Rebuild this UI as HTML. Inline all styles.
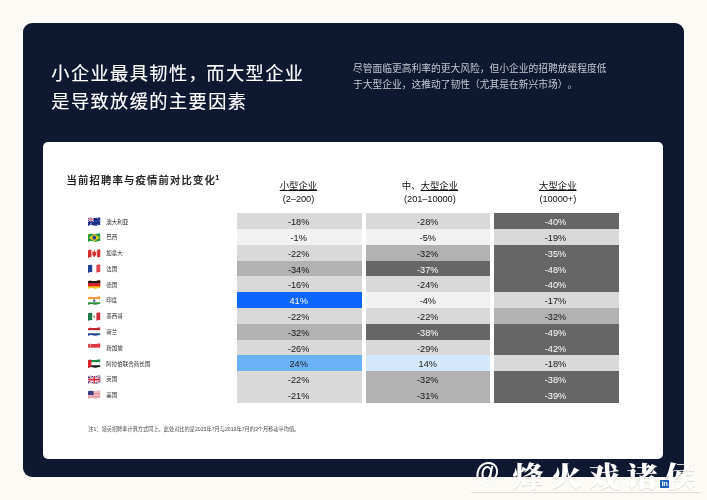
<!DOCTYPE html>
<html lang="zh-CN"><head><meta charset="utf-8"><title>小企业最具韧性</title>
<style>
html,body{margin:0;padding:0}
body{width:707px;height:500px;overflow:hidden;background:#fcfaf5;position:relative;font-family:"Liberation Sans","Noto Sans CJK SC",sans-serif}
.panel{position:absolute;left:23px;top:23px;width:661px;height:453.5px;background:#0f1831;border-radius:9px}
.card{position:absolute;left:43px;top:142px;width:620px;height:316.5px;background:#fff;border-radius:5px}
.title{position:absolute;left:51.3px;top:60.1px;margin:0;font-size:18.2px;line-height:28px;font-weight:400;color:#fff;white-space:nowrap;letter-spacing:1.42px;-webkit-text-stroke:.15px #fff}
.title i{font-style:normal;letter-spacing:-.4px}
.desc{text-spacing-trim:space-all;position:absolute;left:353px;top:61.3px;margin:0;font-size:9.75px;line-height:15.8px;color:#c6c9d3;white-space:nowrap;font-weight:400}
.sub{position:absolute;left:66.5px;top:172.7px;margin:0;font-size:10.3px;line-height:16px;color:#1c1c1c;font-weight:500;-webkit-text-stroke:.22px #1c1c1c;white-space:nowrap;letter-spacing:1.2px}
.sub sup{font-size:6.5px;line-height:0;vertical-align:3.6px;letter-spacing:0;font-weight:700;margin-left:-.5px}
.hd{position:absolute;text-align:center;font-size:9.4px;line-height:12.6px;color:#111;top:179.6px;white-space:nowrap}
.hd u{text-decoration-thickness:.7px;text-underline-offset:1px}
.hd span{display:block;font-size:9.3px;letter-spacing:-.1px;position:relative;top:.8px}
.c{position:absolute;height:15.8px;line-height:18.6px;text-align:center;font-size:9.2px;box-sizing:border-box;padding-right:2px;overflow:hidden}
.f{position:absolute;left:88px;width:12.6px;height:9.3px;display:block}
.n{position:absolute;left:106.3px;font-size:5.5px;line-height:8px;color:#262626;white-space:nowrap;font-weight:400}
.note{position:absolute;left:88.3px;top:424.6px;font-size:5.2px;line-height:8px;color:#444;white-space:nowrap;margin:0}
.wm{position:absolute;left:474px;top:458.5px;margin:0;transform:scaleY(.9);transform-origin:0 0;font-family:"Liberation Serif","Noto Serif CJK SC",serif;font-weight:900;font-size:31px;line-height:40px;color:#fff;white-space:nowrap;letter-spacing:7px;text-shadow:0 1px 1px rgba(120,110,90,.25)}
.wm .at{font-family:"Liberation Sans",sans-serif;font-weight:700;font-size:33px;letter-spacing:0;position:relative;top:-6px;left:1px;display:inline-block;width:38.5px;transform:scaleX(.76);transform-origin:0 50%}
.wml{position:absolute;left:471px;top:491px;width:230px;height:1.2px;background:#fff;box-shadow:0 1px 1px rgba(120,110,90,.25)}
.li{position:absolute;left:660px;top:479.8px;width:9.2px;height:8.6px;background:#1a5fb8;border-radius:.6px;color:#fff;font-size:7.6px;line-height:8px;font-weight:700;text-align:center;letter-spacing:-.3px}
</style></head><body>
<svg width="0" height="0" style="position:absolute"><defs><clipPath id="wv"><path d="M0 12C28 0 52 14 80 8S114 0 126 6V70C112 64 92 80 62 73S16 66 0 78Z"/></clipPath></defs></svg>
<div class="panel"></div>
<h1 class="title">小企业最具韧性<i>，</i>而大型企业<br>是导致放缓的主要因素</h1>
<p class="desc">尽管面临更高利率的更大风险，但小企业的招聘放缓程度低<br>于大型企业，这推动了韧性（尤其是在新兴市场）。</p>
<div class="card"></div>
<h2 class="sub">当前招聘率与疫情前对比变化<sup>1</sup></h2>
<div class="hd" style="left:236.2px;width:124.6px"><u>小型企业</u><span>(2–200)</span></div>
<div class="hd" style="left:367.8px;width:124.2px">中、<u>大型企业</u><span>(201–10000)</span></div>
<div class="hd" style="left:495.5px;width:124.6px"><u>大型企业</u><span>(10000+)</span></div>
<svg class="f" style="top:217.00px" viewBox="0 0 126 80" preserveAspectRatio="none"><g clip-path="url(#wv)"><rect width="126" height="80" fill="#1b2f86"/><rect width="60" height="40" fill="#24348c"/><path d="M0 0L60 40M60 0L0 40" stroke="#fff" stroke-width="8"/><path d="M30 0V40M0 20H60" stroke="#fff" stroke-width="12"/><path d="M30 0V40M0 20H60" stroke="#d8233a" stroke-width="6"/><circle cx="30" cy="60" r="7" fill="#fff"/><circle cx="95" cy="15" r="4" fill="#fff"/><circle cx="110" cy="35" r="4" fill="#fff"/><circle cx="95" cy="65" r="4" fill="#fff"/><circle cx="80" cy="40" r="4" fill="#fff"/></g></svg><div class="n" style="top:217.60px">澳大利亚</div><div class="c" style="left:237.4px;top:213.40px;width:124.6px;background:#d9d9d9;color:#151515">-18%</div><div class="c" style="left:366px;top:213.40px;width:124.2px;background:#d9d9d9;color:#151515;padding-right:.6px">-28%</div><div class="c" style="left:494.2px;top:213.40px;width:124.6px;background:#666666;color:#fff">-40%</div>
<svg class="f" style="top:232.77px" viewBox="0 0 126 80" preserveAspectRatio="none"><g clip-path="url(#wv)"><rect width="126" height="80" fill="#2a9a3c"/><path d="M63 8L116 40L63 72L10 40Z" fill="#f7d322"/><circle cx="63" cy="40" r="18" fill="#243f8f"/></g></svg><div class="n" style="top:233.37px">巴西</div><div class="c" style="left:237.4px;top:229.17px;width:124.6px;background:#f1f1f1;color:#151515">-1%</div><div class="c" style="left:366px;top:229.17px;width:124.2px;background:#f1f1f1;color:#151515;padding-right:.6px">-5%</div><div class="c" style="left:494.2px;top:229.17px;width:124.6px;background:#d9d9d9;color:#151515">-19%</div>
<svg class="f" style="top:248.54px" viewBox="0 0 126 80" preserveAspectRatio="none"><g clip-path="url(#wv)"><rect width="126" height="80" fill="#fff"/><rect width="34" height="80" fill="#d82b2b"/><rect x="92" width="34" height="80" fill="#d82b2b"/><path d="M63 8L72 28L86 22L80 46L90 52L70 58L67 72H59L56 58L36 52L46 46L40 22L54 28Z" fill="#d82b2b"/></g></svg><div class="n" style="top:249.14px">加拿大</div><div class="c" style="left:237.4px;top:244.94px;width:124.6px;background:#d9d9d9;color:#151515">-22%</div><div class="c" style="left:366px;top:244.94px;width:124.2px;background:#b2b2b2;color:#151515;padding-right:.6px">-32%</div><div class="c" style="left:494.2px;top:244.94px;width:124.6px;background:#666666;color:#fff">-35%</div>
<svg class="f" style="top:264.31px" viewBox="0 0 126 80" preserveAspectRatio="none"><g clip-path="url(#wv)"><rect width="126" height="80" fill="#fff"/><rect width="42" height="80" fill="#1f3f94"/><rect x="84" width="42" height="80" fill="#e0444c"/></g></svg><div class="n" style="top:264.91px">法国</div><div class="c" style="left:237.4px;top:260.71px;width:124.6px;background:#b2b2b2;color:#151515">-34%</div><div class="c" style="left:366px;top:260.71px;width:124.2px;background:#666666;color:#fff;padding-right:.6px">-37%</div><div class="c" style="left:494.2px;top:260.71px;width:124.6px;background:#666666;color:#fff">-48%</div>
<svg class="f" style="top:280.08px" viewBox="0 0 126 80" preserveAspectRatio="none"><g clip-path="url(#wv)"><rect width="126" height="80" fill="#f5c625"/><rect width="126" height="54" fill="#d8232a"/><rect width="126" height="27" fill="#1d1d1d"/></g></svg><div class="n" style="top:280.68px">德国</div><div class="c" style="left:237.4px;top:276.48px;width:124.6px;background:#d9d9d9;color:#151515">-16%</div><div class="c" style="left:366px;top:276.48px;width:124.2px;background:#d9d9d9;color:#151515;padding-right:.6px">-24%</div><div class="c" style="left:494.2px;top:276.48px;width:124.6px;background:#666666;color:#fff">-40%</div>
<svg class="f" style="top:295.85px" viewBox="0 0 126 80" preserveAspectRatio="none"><g clip-path="url(#wv)"><rect width="126" height="80" fill="#fff"/><rect width="126" height="27" fill="#f29a38"/><rect y="54" width="126" height="26" fill="#2f8f3a"/><circle cx="63" cy="40" r="9" fill="#5a68b0" stroke="#24358a" stroke-width="4"/></g></svg><div class="n" style="top:296.45px">印度</div><div class="c" style="left:237.4px;top:292.25px;width:124.6px;background:#0a66ff;color:#fff">41%</div><div class="c" style="left:366px;top:292.25px;width:124.2px;background:#f1f1f1;color:#151515;padding-right:.6px">-4%</div><div class="c" style="left:494.2px;top:292.25px;width:124.6px;background:#d9d9d9;color:#151515">-17%</div>
<svg class="f" style="top:311.62px" viewBox="0 0 126 80" preserveAspectRatio="none"><g clip-path="url(#wv)"><rect width="126" height="80" fill="#fff"/><rect width="42" height="80" fill="#1f7a4a"/><rect x="84" width="42" height="80" fill="#d02b34"/><circle cx="63" cy="40" r="9" fill="#9a7a4a"/></g></svg><div class="n" style="top:312.22px">墨西哥</div><div class="c" style="left:237.4px;top:308.02px;width:124.6px;background:#d9d9d9;color:#151515">-22%</div><div class="c" style="left:366px;top:308.02px;width:124.2px;background:#d9d9d9;color:#151515;padding-right:.6px">-22%</div><div class="c" style="left:494.2px;top:308.02px;width:124.6px;background:#b2b2b2;color:#151515">-32%</div>
<svg class="f" style="top:327.39px" viewBox="0 0 126 80" preserveAspectRatio="none"><g clip-path="url(#wv)"><rect width="126" height="80" fill="#fff"/><rect width="126" height="27" fill="#c4242f"/><rect y="54" width="126" height="26" fill="#22468f"/></g></svg><div class="n" style="top:327.99px">荷兰</div><div class="c" style="left:237.4px;top:323.79px;width:124.6px;background:#b2b2b2;color:#151515">-32%</div><div class="c" style="left:366px;top:323.79px;width:124.2px;background:#666666;color:#fff;padding-right:.6px">-38%</div><div class="c" style="left:494.2px;top:323.79px;width:124.6px;background:#666666;color:#fff">-49%</div>
<svg class="f" style="top:343.16px" viewBox="0 0 126 80" preserveAspectRatio="none"><g clip-path="url(#wv)"><rect width="126" height="80" fill="#fff"/><rect width="126" height="40" fill="#e0353f"/><circle cx="28" cy="20" r="10" fill="#fff"/><circle cx="33" cy="20" r="9" fill="#e0353f"/></g></svg><div class="n" style="top:343.76px">新加坡</div><div class="c" style="left:237.4px;top:339.56px;width:124.6px;background:#d9d9d9;color:#151515">-26%</div><div class="c" style="left:366px;top:339.56px;width:124.2px;background:#d9d9d9;color:#151515;padding-right:.6px">-29%</div><div class="c" style="left:494.2px;top:339.56px;width:124.6px;background:#666666;color:#fff">-42%</div>
<svg class="f" style="top:358.93px" viewBox="0 0 126 80" preserveAspectRatio="none"><g clip-path="url(#wv)"><rect width="126" height="80" fill="#fff"/><rect width="126" height="27" fill="#1f8a43"/><rect y="54" width="126" height="26" fill="#1a1a1a"/><rect width="34" height="80" fill="#d8232f"/></g></svg><div class="n" style="top:359.53px">阿拉伯联合酋长国</div><div class="c" style="left:237.4px;top:355.33px;width:124.6px;background:#6cb2f9;color:#1a1a1a">24%</div><div class="c" style="left:366px;top:355.33px;width:124.2px;background:#d3e8fd;color:#222;padding-right:.6px">14%</div><div class="c" style="left:494.2px;top:355.33px;width:124.6px;background:#d9d9d9;color:#151515">-18%</div>
<svg class="f" style="top:374.70px" viewBox="0 0 126 80" preserveAspectRatio="none"><g clip-path="url(#wv)"><rect width="126" height="80" fill="#28337e"/><path d="M0 0L126 80M126 0L0 80" stroke="#fff" stroke-width="16"/><path d="M0 0L126 80M126 0L0 80" stroke="#cf2b3c" stroke-width="6"/><path d="M63 0V80M0 40H126" stroke="#fff" stroke-width="26"/><path d="M63 0V80M0 40H126" stroke="#cf2b3c" stroke-width="14"/></g></svg><div class="n" style="top:375.30px">英国</div><div class="c" style="left:237.4px;top:371.10px;width:124.6px;background:#d9d9d9;color:#151515">-22%</div><div class="c" style="left:366px;top:371.10px;width:124.2px;background:#b2b2b2;color:#151515;padding-right:.6px">-32%</div><div class="c" style="left:494.2px;top:371.10px;width:124.6px;background:#666666;color:#fff">-38%</div>
<svg class="f" style="top:390.47px" viewBox="0 0 126 80" preserveAspectRatio="none"><g clip-path="url(#wv)"><rect width="126" height="80" fill="#fff"/><path d="M0 6H126M0 18H126M0 31H126M0 43H126M0 55H126M0 68H126M0 78H126" stroke="#c9424f" stroke-width="6"/><rect width="56" height="43" fill="#3c3b7e"/></g></svg><div class="n" style="top:391.07px">美国</div><div class="c" style="left:237.4px;top:386.87px;width:124.6px;background:#d9d9d9;color:#151515">-21%</div><div class="c" style="left:366px;top:386.87px;width:124.2px;background:#b2b2b2;color:#151515;padding-right:.6px">-31%</div><div class="c" style="left:494.2px;top:386.87px;width:124.6px;background:#666666;color:#fff">-39%</div>
<p class="note">注1：领英招聘率计算方式同上。此处对比的是2023年7月与2019年7月的3个月移动平均值。</p>
<div class="wm"><span class="at">@</span>烽火戏诸侯</div>
<div class="wml"></div>
<div class="li">in</div>
</body></html>
